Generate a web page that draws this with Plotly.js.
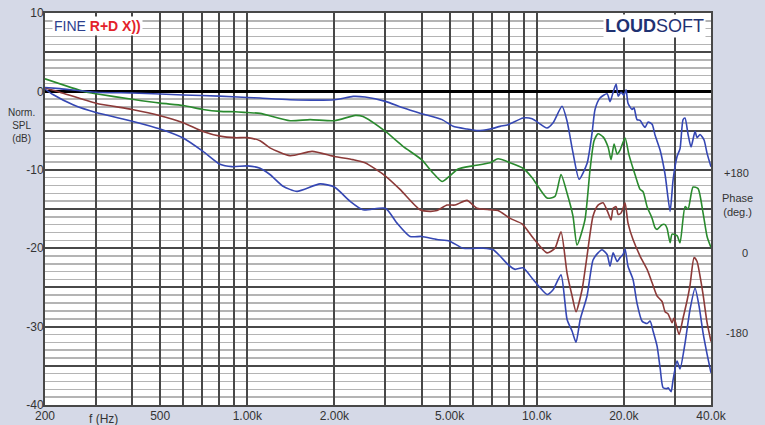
<!DOCTYPE html>
<html>
<head>
<meta charset="utf-8">
<script src="https://cdn.plot.ly/plotly-3.0.1.min.js"></script>
<style>
html,body{margin:0;padding:0;background:#d5d9e7;}
#chart{width:765px;height:425px;}
</style>
</head>
<body>
<div id="chart"></div>
<script>
// ---- data (Hz, dB) ----
const freqA = [200,225,300,400,500,600,800,1000,1107,1405,2000,2320,2552,3000,3450,4000,4710,5140,5740,6250,6900,7470,7960,8970,9640,10850,11390,12230,12730,13340,14010,14920,15530,15900,16540,17500,17920,18360,18800,19110,19560,20000,20350,20670,21340,21680,22200,22750,23300,23680,24250,25040,25640,26690,27760,28890,29580,30530,31270,32030,32540,33330,34130,35240,35800,36670,37850,38770,40000];
const splA  = [0.5,0.35,-0.1,-0.2,-0.33,-0.46,-0.6,-0.77,-0.85,-1.06,-1.06,-0.64,-0.72,-1.27,-2.1,-2.84,-3.6,-4.46,-4.8,-5.0,-4.8,-4.46,-4.25,-3.4,-3.5,-4.67,-4.0,-1.9,-3.8,-7.8,-11.2,-9.2,-5.3,-2.3,-0.85,-0.3,-1.3,-0.1,0.95,-0.6,-0.1,-0.5,0.2,-1.5,-2.3,-2.1,-3.6,-3.7,-4.3,-4.6,-3.9,-4.2,-5.6,-7.5,-10.6,-15.3,-11.3,-8.3,-7.3,-3.6,-3.4,-5.5,-7.1,-5.1,-5.9,-5.5,-6.2,-7.9,-9.6];

const freqB = [200,272,300,400,500,600,703,805,907,1000,1107,1405,1647,2000,2360,2510,3000,3450,4000,4380,4710,5000,5350,6000,6900,7350,8090,8970,9640,10850,11560,12130,12730,13340,13780,14670,15280,15780,16290,16950,17640,18060,18500,18960,19400,20190,20830,21850,22750,23300,24060,25040,25640,26050,27100,27760,28210,28890,29350,30530,31270,32540,33330,34680,36090,37550,38770,40000];
const splB  = [1.6,0,-0.3,-1.0,-1.5,-1.8,-2.3,-2.55,-2.6,-2.7,-2.8,-3.74,-3.6,-3.74,-3.06,-3.2,-5.1,-7.0,-8.7,-10.4,-11.5,-10.8,-9.9,-9.5,-9.1,-8.6,-9.1,-9.8,-11.0,-13.6,-13.4,-10.6,-13.0,-15.9,-19.6,-16.4,-10.0,-6.3,-5.4,-5.8,-7.1,-8.7,-6.7,-8.0,-7.5,-5.95,-8.1,-10.6,-12.5,-12.8,-14.7,-16.2,-17.4,-17.6,-17.0,-17.0,-17.5,-19.3,-18.2,-18.4,-19.3,-14.7,-15.0,-12.2,-12.4,-15.5,-18.5,-19.9];

const freqC = [200,225,300,400,500,600,703,805,907,1000,1107,1197,1405,1674,2000,2320,2552,3000,3370,3950,4280,4520,4900,5220,5740,6220,6900,7350,8090,8900,9720,10850,11560,12130,12730,13250,13670,14340,14920,15650,16290,16950,17640,18060,18360,18800,19110,19560,19870,20190,20670,21510,22750,24060,25040,26050,27100,27760,28440,29350,29820,31020,32030,33060,33860,34960,35800,36670,37550,38770,40000];
const splC  = [0.43,-0.1,-1.5,-2.3,-3.1,-4.0,-5.1,-5.7,-5.9,-5.9,-6.3,-7.2,-8.2,-7.65,-8.3,-8.7,-9.1,-10.8,-12.5,-15.1,-15.3,-15.2,-14.5,-14.5,-13.9,-14.9,-15.1,-15.2,-16.2,-16.9,-18.7,-20.6,-20.0,-17.9,-23.2,-26.1,-28.1,-25.3,-21.0,-15.9,-14.5,-14.2,-15.5,-16.4,-14.9,-14.7,-15.7,-15.5,-14.9,-14.2,-16.8,-18.9,-21.0,-22.7,-24.4,-26.1,-26.8,-28.1,-28.4,-29.5,-28.9,-31.0,-28.9,-26.7,-24.7,-21.2,-21.7,-23.6,-25.9,-29.5,-31.9];

const freqD = [200,213,250,300,400,500,600,703,805,886,1000,1107,1197,1329,1485,1783,2000,2263,2510,3000,3290,3650,4000,4520,5000,5570,6530,7070,7470,7960,8420,8970,9720,10850,11390,12130,12730,13250,13670,14130,14920,15650,16290,16810,17500,17920,18360,18960,19400,19870,20190,20670,21510,22200,23110,24060,24640,25240,26050,26690,27330,28210,28440,29120,29580,30530,31270,32540,33860,35240,36380,37550,38770,40000];
const splD  = [0.3,-0.4,-1.7,-2.7,-3.8,-4.8,-5.95,-7.65,-9.3,-9.6,-9.5,-9.8,-10.6,-12.1,-12.75,-11.8,-12.2,-14.0,-15.1,-14.9,-16.8,-18.5,-18.5,-18.9,-19.1,-20.0,-20.0,-20.2,-21.0,-22.1,-22.7,-22.5,-24.0,-25.9,-25.3,-23.4,-29.1,-30.6,-32.0,-29.1,-26.1,-21.5,-20.6,-20.2,-20.8,-22.3,-20.6,-21.7,-21.2,-20.8,-20.1,-22.3,-24.0,-27.0,-29.3,-29.6,-29.3,-30.6,-32.5,-35.3,-37.8,-37.9,-37.8,-38.3,-36.8,-34.4,-35.4,-32.1,-27.8,-25.1,-27.4,-30.8,-33.5,-35.9];

const xGridVals = [200,300,400,500,600,700,800,900,1000,2000,3000,4000,5000,6000,7000,8000,9000,10000,20000,30000,40000];
const xTickText = ['200','','','500','','','','','1.00k','2.00k','','','5.00k','','','','','10.0k','20.0k','','40.0k'];
const yTickVals = [-40,-35,-30,-25,-20,-15,-10,-5,0,5,10];
const yTickText = ['-40','','-30','','-20','','-10','','0','','10'];

const colors = {A:'#3547b3', B:'#2a8a2e', C:'#8c3a38', D:'#3547b3'};

function tr(x,y,c){
  return {x:x,y:y,type:'scatter',mode:'lines',line:{color:c,width:1.6,shape:'spline',smoothing:0.6},hoverinfo:'skip',showlegend:false};
}
const data = [tr(freqD,splD,colors.D), tr(freqC,splC,colors.C), tr(freqB,splB,colors.B), tr(freqA,splA,colors.A)];

const font = 'Liberation Sans, Arial, sans-serif';
const layout = {
  width:765, height:425,
  margin:{l:45,r:54,t:13,b:20},
  paper_bgcolor:'#d5d9e7',
  plot_bgcolor:'#ffffff',
  font:{family:font,size:11,color:'#333333'},
  xaxis:{
    type:'log', range:[Math.log10(200),Math.log10(40000)],
    tickmode:'array', tickvals:xGridVals, ticktext:xTickText,
    showgrid:true, gridcolor:'#484848', gridwidth:2,
    showline:true, mirror:true, linecolor:'#484848', linewidth:2,
    ticks:'', ticklen:0, ticklabelstandoff:-1, tickfont:{size:12,color:'#333'},
    zeroline:false, fixedrange:true
  },
  yaxis:{
    range:[-40,10],
    tickmode:'array', tickvals:yTickVals, ticktext:yTickText,
    showgrid:true, gridcolor:'#484848', gridwidth:2,
    minor:{tickmode:'linear', tick0:0, dtick:1, showgrid:true, gridcolor:'#b4b4b4', gridwidth:1.5, ticks:''},
    zeroline:true, zerolinecolor:'#000000', zerolinewidth:3,
    showline:true, mirror:true, linecolor:'#484848', linewidth:2,
    ticks:'', ticklen:0, ticklabelstandoff:-3, tickfont:{size:12,color:'#333'},
    fixedrange:true
  },
  annotations:[
    {xref:'paper',yref:'paper',x:0.0105,y:0.968,xanchor:'left',yanchor:'middle',showarrow:false,
     text:'FINE <b><span style="color:#e3222a">R+D X))</span></b>',font:{family:font,size:14,color:'#2d3f8e'},bgcolor:'#ffffff',borderpad:1},
    {xref:'paper',yref:'paper',x:0.993,y:0.968,xanchor:'right',yanchor:'middle',showarrow:false,
     text:'<b>LOUD</b>SOFT',font:{family:font,size:18,color:'#1f3272'},bgcolor:'#ffffff',borderpad:1},
    {xref:'paper',yref:'paper',x:-0.035,y:0.714,xanchor:'center',yanchor:'middle',showarrow:false,
     text:'Norm.<br>SPL<br>(dB)',font:{family:font,size:10,color:'#333'}},
    {xref:'paper',yref:'paper',x:0.088,y:-0.012,xanchor:'center',yanchor:'top',showarrow:false,
     text:'f (Hz)',font:{family:font,size:12,color:'#333'}},
    {xref:'paper',yref:'paper',x:1.039,y:0.592,xanchor:'center',yanchor:'middle',showarrow:false,
     text:'+180',font:{family:font,size:11,color:'#333'}},
    {xref:'paper',yref:'paper',x:1.040,y:0.510,xanchor:'center',yanchor:'middle',showarrow:false,
     text:'Phase<br>(deg.)',font:{family:font,size:11,color:'#333'}},
    {xref:'paper',yref:'paper',x:1.051,y:0.388,xanchor:'center',yanchor:'middle',showarrow:false,
     text:'0',font:{family:font,size:11,color:'#333'}},
    {xref:'paper',yref:'paper',x:1.039,y:0.184,xanchor:'center',yanchor:'middle',showarrow:false,
     text:'-180',font:{family:font,size:11,color:'#333'}}
  ]
};
Plotly.newPlot('chart', data, layout, {displayModeBar:false, staticPlot:true});
</script>
</body>
</html>
